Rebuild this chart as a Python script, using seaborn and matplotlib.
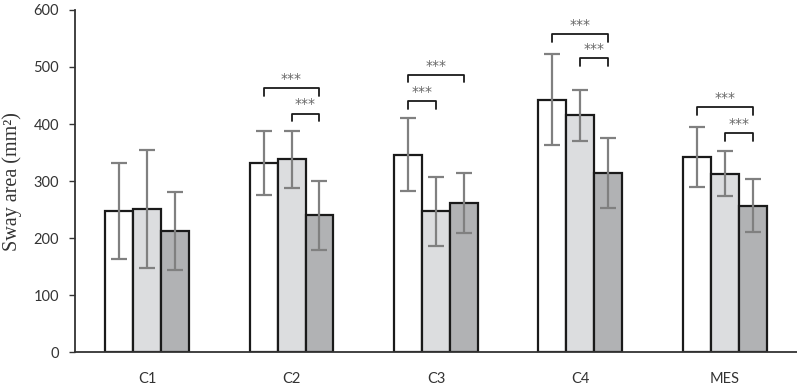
import numpy as np
import pandas as pd
import matplotlib as mpl
mpl.use("Agg")
import matplotlib.pyplot as plt
import seaborn as sns

sns.set_style("white")
plt.rcParams['font.family'] = ['Lato', 'DejaVu Sans']

conditions = ["C1", "C2", "C3", "C4", "MES"]
groups = ["A", "B", "C"]
# mean and sd for each group
mean_a = [248, 332, 346, 443, 342]
mean_b = [251, 338, 247, 415, 313]
mean_c = [213, 240, 262, 314, 257]
sd_a = [84, 56, 64, 80, 52]
sd_b = [104, 50, 60, 45, 39]
sd_c = [68, 60, 53, 61, 46]

# significance: (condition index, bar i, bar j, bracket height)
sig_pairs = [
    (1, 0, 2, 463), (1, 1, 2, 418),
    (2, 0, 2, 486), (2, 0, 1, 440),
    (3, 0, 2, 557), (3, 1, 2, 515),
    (4, 0, 2, 429), (4, 1, 2, 384),
]

df = pd.DataFrame({
    "cond": conditions * 3,
    "grp": [g for g in groups for _ in conditions],
    "mean": mean_a + mean_b + mean_c,
    "sd": sd_a + sd_b + sd_c,
})

fig = plt.figure(figsize=(7.97, 3.86), dpi=100)
ax = fig.add_axes([0.094, 0.0873, 0.906, 0.887])

sns.barplot(data=df, x="cond", y="mean", hue="grp", order=conditions,
            palette=["#ffffff", "#dcdddf", "#b1b2b4"], width=0.58,
            edgecolor="#1a1a1a", linewidth=1.6, errorbar=None, legend=False,
            saturation=1, ax=ax)

bar_conts = list(ax.containers)
centers = []
for k, cont in enumerate(bar_conts):
    xs = [b.get_x() + b.get_width() / 2 for b in cont]
    centers.append(xs)
for k, xs in enumerate(centers):
    sd = df[df.grp == groups[k]]["sd"].values
    mn = df[df.grp == groups[k]]["mean"].values
    ax.errorbar(xs, mn, yerr=sd, fmt="none", ecolor="#808080",
                elinewidth=1.6, capsize=5.5, capthick=1.6, zorder=5)

tick_h = 13
for c, i, j, h in sig_pairs:
    x1, x2 = centers[i][c], centers[j][c]
    ax.plot([x1, x1, x2, x2], [h - tick_h, h, h, h - tick_h],
            color="#1a1a1a", lw=1.3, clip_on=False)
    ax.text((x1 + x2) / 2, h + 4, "***", ha="center", va="bottom",
            fontsize=10, color="#666666", family="DejaVu Sans")

ax.set_ylim(0, 600)
ax.set_xlim(-0.5, 4.5)
ax.set_yticks(range(0, 601, 100))
ax.set_xlabel("")
ax.set_ylabel("Sway area (mm²)", family="Liberation Serif", fontsize=14.5,
              color="#333333", labelpad=8)
ax.tick_params(axis="y", which="both", left=True, length=4.3, width=1,
               color="#333333", labelsize=10.5, labelcolor="#333333", pad=7)
ax.tick_params(axis="x", bottom=False, labelsize=10.5, labelcolor="#333333", pad=10.5)
sns.despine(ax=ax, top=True, right=True)
ax.spines["left"].set_color("#333333")
ax.spines["bottom"].set_color("#333333")
ax.spines["left"].set_linewidth(1.3)
ax.spines["bottom"].set_linewidth(1.3)

fig.savefig("out.png", dpi=100)
